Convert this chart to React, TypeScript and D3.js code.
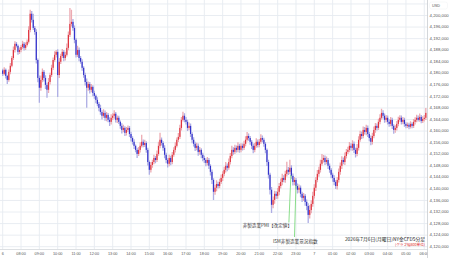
import React from "react";
import * as d3 from "d3";

// ---- data (5-minute candles, 07:00 Jul 6 -> 06:05 Jul 7), price in USD ----
const firstOpen = 4181.0;
const closes = [
  4179.8,4181.2,4179.1,4177.7,4180.5,4182.6,4185.3,4188.1,4190.2,4189.5,4187.4,4188.1,
  4189.1,4190.2,4188.8,4189.8,4190.9,4195.0,4200.6,4198.5,4195.7,4194.3,4184.6,4178.4,
  4175.0,4177.7,4180.5,4178.4,4176.0,4174.3,4177.0,4179.4,4181.9,4184.6,4186.4,4187.4,
  4179.4,4184.0,4186.0,4187.4,4185.3,4186.4,4188.8,4193.3,4197.1,4197.8,4195.7,4191.6,
  4186.4,4188.1,4185.3,4184.0,4181.9,4179.4,4177.0,4175.0,4176.3,4174.3,4175.3,4173.2,
  4172.2,4170.8,4169.4,4168.0,4166.6,4165.3,4166.3,4164.6,4165.6,4163.9,4163.2,4164.6,
  4165.3,4166.0,4163.9,4164.6,4163.2,4161.8,4160.4,4161.1,4159.4,4160.4,4161.1,4159.0,
  4157.6,4156.3,4154.9,4153.5,4152.1,4153.5,4154.9,4156.3,4155.2,4155.9,4153.5,4149.3,
  4146.6,4148.3,4149.3,4150.7,4150.0,4152.1,4154.9,4157.0,4155.9,4154.2,4151.8,4150.0,
  4148.7,4150.7,4149.3,4151.8,4153.5,4154.9,4157.0,4158.0,4161.1,4163.9,4165.3,4163.9,
  4163.2,4161.1,4161.8,4159.0,4157.0,4155.6,4154.2,4154.9,4152.8,4153.5,4151.8,4150.7,
  4150.0,4149.0,4150.0,4148.0,4145.9,4143.1,4139.0,4140.4,4141.7,4141.0,4142.4,4143.8,
  4145.2,4146.6,4148.0,4147.3,4149.3,4151.4,4153.5,4152.8,4154.2,4153.5,4154.9,4153.5,
  4154.9,4154.2,4155.6,4157.0,4158.3,4157.6,4156.3,4154.9,4153.5,4154.9,4156.3,4155.2,
  4156.3,4157.6,4157.0,4155.6,4153.5,4149.3,4144.9,4139.7,4134.5,4136.2,4138.3,4137.6,
  4139.0,4141.0,4142.4,4143.8,4143.1,4145.2,4146.6,4145.9,4147.3,4144.5,4142.4,4143.1,
  4141.0,4139.7,4140.4,4138.3,4136.9,4137.6,4135.5,4134.1,4131.0,4132.7,4134.8,4137.6,
  4140.4,4143.1,4145.2,4146.6,4148.7,4150.0,4150.7,4149.3,4150.0,4148.0,4146.6,4144.9,
  4143.8,4142.4,4141.0,4143.1,4145.9,4148.0,4150.0,4149.3,4151.4,4152.8,4153.5,4154.9,
  4154.2,4155.6,4153.5,4152.1,4154.2,4157.0,4159.0,4158.3,4160.4,4159.7,4161.1,4159.0,
  4157.6,4156.3,4158.3,4160.4,4161.8,4161.1,4163.2,4164.6,4166.3,4165.3,4163.9,4164.6,
  4163.2,4162.5,4163.9,4161.8,4160.4,4161.1,4162.5,4163.9,4164.6,4163.2,4163.9,4162.5,
  4161.8,4162.2,4161.5,4162.5,4161.8,4163.2,4163.9,4164.6,4163.9,4164.9,4163.5,4164.2,
  4164.6,4166.3,
];
// upper wick above body / lower wick below body (USD)
const hiExt = [
  0.6,0.9,0.5,0.4,0.8,1.0,0.7,1.2,0.9,0.6,0.5,0.8,
  0.7,1.1,0.6,0.9,0.8,1.3,1.4,1.0,2.1,0.7,0.9,0.5,
  0.8,1.5,1.2,0.6,0.9,0.7,1.4,0.8,1.1,0.9,1.2,0.7,
  0.9,1.3,0.8,1.0,0.7,1.1,1.5,1.2,5.5,4.2,1.0,0.8,
  0.6,1.4,0.8,0.7,0.9,0.5,0.8,1.2,0.9,0.7,1.0,0.6,
  0.8,0.5,0.9,0.7,1.1,0.6,1.3,0.8,1.0,0.7,0.9,1.2,
  0.9,1.2,0.6,0.8,0.7,0.5,0.9,1.1,0.6,1.0,0.8,0.7,
  0.8,0.6,0.9,0.5,0.7,1.0,1.2,2.4,0.8,1.1,0.6,0.7,
  0.5,1.0,0.8,1.1,0.7,1.2,1.4,2.4,0.8,0.6,0.9,0.7,
  0.6,1.1,0.8,1.0,0.9,1.2,0.8,1.3,1.1,1.0,1.4,0.9,
  1.0,0.7,1.2,0.8,0.6,0.9,0.7,1.1,0.8,1.0,0.6,0.7,
  0.8,0.6,1.0,0.7,0.5,0.8,0.6,1.0,1.3,0.8,1.1,1.2,
  0.9,1.1,1.3,0.8,1.2,1.0,1.4,0.9,1.1,0.8,1.2,0.7,
  0.9,0.8,1.1,1.2,1.4,0.9,0.7,0.6,0.8,1.0,1.2,0.8,
  1.0,1.3,0.9,0.7,0.6,0.5,0.8,0.7,1.0,1.2,1.1,0.9,
  1.3,1.0,1.2,1.4,0.9,1.1,2.8,1.0,2.8,0.9,0.8,1.0,
  0.7,0.9,1.1,0.8,0.7,1.0,0.6,0.8,0.9,1.6,1.3,1.4,
  1.2,1.0,1.3,1.1,1.4,2.1,1.0,0.9,1.2,0.7,0.8,0.6,
  0.7,0.9,0.6,1.0,1.2,1.1,1.3,0.9,1.2,1.0,1.1,1.3,
  0.9,1.2,0.8,0.7,1.3,1.2,1.1,0.9,1.2,1.0,1.1,0.8,
  0.7,0.9,1.1,1.2,1.0,0.8,1.1,1.2,1.4,0.9,0.8,1.0,
  0.8,0.9,1.0,0.7,0.6,0.9,1.0,1.1,0.9,0.8,1.0,0.7,
  0.6,0.8,0.7,0.9,0.6,1.0,0.9,1.1,0.8,1.2,0.7,0.9,
  1.0,1.7,
];
const loExt = [
  0.7,0.5,0.9,1.4,0.6,0.8,0.5,0.7,0.9,0.6,1.0,0.7,
  0.8,0.6,0.9,0.7,0.5,0.6,0.8,0.9,0.7,1.0,1.2,1.5,
  5.2,1.0,0.8,1.2,1.4,2.8,1.1,0.9,0.7,0.8,0.6,0.9,
  7.6,1.0,0.8,0.7,1.1,0.9,0.6,0.8,0.7,0.9,1.0,1.2,
  0.9,0.8,1.1,0.7,1.0,0.9,1.2,6.9,1.0,1.3,0.9,1.1,
  1.0,1.2,0.8,1.1,0.9,1.3,0.7,1.0,1.2,0.8,1.4,0.9,
  0.8,1.0,0.9,1.1,0.7,1.0,1.2,0.8,1.1,0.9,0.7,1.0,
  1.2,0.9,1.1,0.8,1.4,0.7,0.9,0.6,0.8,0.7,1.0,1.2,
  1.7,0.9,1.0,0.8,1.1,0.7,0.6,0.8,0.9,1.0,1.2,1.1,
  1.3,0.9,1.1,0.8,0.7,0.9,0.6,0.8,0.7,0.9,0.6,0.8,
  0.9,1.1,0.8,1.0,1.2,0.9,1.1,0.8,1.3,1.0,1.2,1.1,
  1.0,1.2,0.9,1.1,1.3,1.4,2.8,1.0,1.2,0.9,0.8,0.7,
  1.1,0.8,0.9,1.2,0.7,0.9,0.8,1.0,0.7,0.9,0.8,1.0,
  0.8,0.9,0.7,0.8,0.6,0.9,1.0,1.1,1.2,0.8,0.7,0.9,
  0.8,0.7,0.9,1.0,1.2,1.4,1.3,1.6,2.8,1.2,1.3,1.1,
  1.0,1.2,0.9,1.1,0.8,1.0,0.9,1.1,0.8,1.0,1.2,1.1,
  1.1,1.3,1.0,1.2,1.4,1.1,1.3,1.5,2.8,1.2,1.1,1.0,
  0.9,1.1,0.8,1.0,0.9,0.7,0.9,1.0,0.8,1.1,1.0,1.2,
  1.3,1.1,1.0,1.2,0.9,1.0,1.1,0.8,1.0,0.9,0.7,0.8,
  0.9,1.0,1.1,1.2,0.8,0.9,0.7,1.0,0.8,0.9,1.1,1.0,
  1.1,1.2,0.9,0.8,1.0,0.9,0.7,0.8,0.6,0.9,1.0,0.8,
  0.9,1.0,0.8,1.1,1.3,1.0,0.9,0.8,0.7,0.9,0.8,1.0,
  0.8,0.7,0.9,0.6,0.8,0.7,0.9,0.8,0.6,0.7,0.8,0.7,
  0.9,0.8,
];
// hour ticks (hours after 07:00) and their labels
const hourLabels = [
  "6","08:00","09:00","10:00","11:00","12:00","13:00","14:00","15:00","16:00",
  "17:00","18:00","19:00","20:00","21:00","22:00","23:00","7",
  "01:00","02:00","03:00","04:00","05:00","06:00",
];
const priceTicks = d3.range(4120, 4204.01, 4);
const events = [
  { label: "非製造業PMI【改定値】", hour: 15.75 },
  { label: "ISM非製造業景況指数", hour: 16.0 },
];
const titleText = "2026年7月6日(月曜日)NY金CFD5分足";
const noteText = "(グラフ幅800単位)";

const W = 450, H = 258;
const PLOT_R = 428;
const AXIS_Y = 249.5;
const UP = "#e0333d", DOWN = "#3434cc";
const UP_W = "#ecaab2", DOWN_W = "#adade4";
const GRID = "#e6ebf0";
const LATIN = "'Liberation Sans', Arial, sans-serif";
const CJK = "'Noto Sans CJK JP', sans-serif";

export default function App() {
  const x = d3.scaleLinear().domain([0, 23.2]).range([2.7, 2.7 + 23.2 * 18.33]);
  const y = d3.scaleLinear().domain([4120, 4200]).range([246.7, 15.5]);
  const fmt = (v: number) => d3.format(",")(v * 1000);

  const candles = closes.map((c, i) => {
    const o = i === 0 ? firstOpen : closes[i - 1];
    return { t: (i * 5) / 60, o, c, h: Math.max(o, c) + hiExt[i], l: Math.min(o, c) - loExt[i] };
  });

  return (
    <svg width={W} height={H} style={{ position: "fixed", left: 0, top: 0, background: "#fff" }}>
      <defs>
        <clipPath id="plot"><rect x={0} y={0} width={PLOT_R} height={AXIS_Y} /></clipPath>
      </defs>
      <rect x={0} y={0} width={W} height={H} fill="#fff" />
      <g clipPath="url(#plot)">
        {priceTicks.map((p) => (
          <line key={p} x1={0} x2={PLOT_R} y1={y(p)} y2={y(p)} stroke={GRID} strokeWidth={0.9} />
        ))}
        {hourLabels.map((_, k) => (
          <line key={k} x1={x(k)} x2={x(k)} y1={0} y2={AXIS_Y} stroke={GRID} strokeWidth={0.9} />
        ))}
        {candles.map((d, i) => {
          const up = d.c >= d.o;
          const cx = x(d.t);
          const top = y(Math.max(d.o, d.c));
          const bh = Math.max(0.7, y(Math.min(d.o, d.c)) - top);
          return (
            <g key={i}>
              <line x1={cx} x2={cx} y1={y(d.h)} y2={y(d.l)} stroke={up ? UP_W : DOWN_W} strokeWidth={1.3} />
              <rect x={cx - 0.6} y={top} width={1.2} height={bh} fill={up ? UP : DOWN} />
            </g>
          );
        })}
        {/* event markers */}
        <line x1={x(events[0].hour) - 0.5} x2={x(events[0].hour) - 2.5} y1={175} y2={222.5} stroke="#6ed66e" strokeWidth={0.8} />
        <line x1={x(events[1].hour)} x2={x(events[1].hour) - 1.5} y1={185} y2={237} stroke="#6ed66e" strokeWidth={0.8} />
        <text x={292} y={226} textAnchor="end" dominantBaseline="middle" fontFamily={CJK} fontSize={4.6} fill="#333">{events[0].label}</text>
        <text x={273} y={241.5} dominantBaseline="middle" fontFamily={CJK} fontSize={4.6} fill="#333">{events[1].label}</text>
        <text x={425} y={239.5} textAnchor="end" dominantBaseline="middle" fontFamily={CJK} fontSize={4.8} fill="#222">{titleText}</text>
        <text x={425} y={244.8} textAnchor="end" dominantBaseline="middle" fontFamily={CJK} fontSize={3.6} fill="#e02020">{noteText}</text>
      </g>
      {/* bottom axis */}
      <line x1={0} x2={PLOT_R} y1={AXIS_Y} y2={AXIS_Y} stroke="#d4d8dc" strokeWidth={0.8} />
      {hourLabels.map((lab, k) => (
        <text key={lab + k} x={x(k)} y={253.6} textAnchor="middle" dominantBaseline="middle" fontFamily={LATIN} fontSize={3.8} fill="#555">{lab}</text>
      ))}
      {/* right axis panel */}
      <rect x={PLOT_R} y={0} width={W - PLOT_R} height={H} fill="#fff" />
      <line x1={PLOT_R - 0.5} x2={PLOT_R - 0.5} y1={0} y2={H} stroke="#c9cdd1" strokeWidth={0.8} />
      <rect x={429.5} y={2} width={18} height={7} rx={2} fill="#fff" stroke="#eef0f2" strokeWidth={0.5} />
      <text x={432} y={5.6} dominantBaseline="middle" fontFamily={LATIN} fontSize={3.8} fill="#555">USD</text>
      {priceTicks.filter((p) => p <= 4200).map((p) => (
        <text key={p} x={429.6} y={y(p)} dominantBaseline="middle" fontFamily={LATIN} fontSize={4.3} fill="#555">{fmt(p)}</text>
      ))}
    </svg>
  );
}
